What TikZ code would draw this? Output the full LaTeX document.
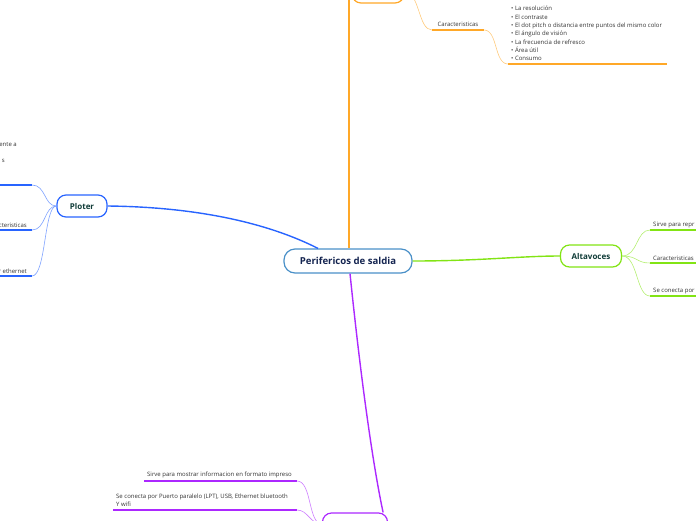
\documentclass[tikz,border=0pt]{standalone}
\usepackage{fontspec}
\setmainfont{Open Sans}
\usetikzlibrary{arrows.meta,calc,positioning}
\definecolor{CoreBlue}{RGB}{74,144,200}
\definecolor{CoreNavy}{RGB}{20,36,80}
\definecolor{TopicInk}{RGB}{16,60,56}
\definecolor{LeafGray}{RGB}{50,50,50}
\definecolor{MapOrange}{RGB}{255,168,40}
\definecolor{MapGreen}{RGB}{130,228,20}
\definecolor{MapBlue}{RGB}{40,100,255}
\definecolor{MapPurple}{RGB}{172,40,255}

\begin{document}
\begin{tikzpicture}[x=1pt,y=-1pt,
    topic/.style={draw,fill=white,rounded corners=9pt,line width=1.2pt,
      minimum height=22pt,text=TopicInk,
      font=\fontsize{8}{9}\selectfont\bfseries},
    leaf/.style={font=\fontsize{6}{8.3}\selectfont,text=LeafGray,
      inner sep=1pt,align=left},
    branch/.style={line width=1.4pt},
    twig/.style={line width=.6pt},
    bar/.style={line width=1.8pt}]
  \useasboundingbox (0,0) rectangle (696,520);
  \clip (0,0) rectangle (696,520);

  % central topic
  \node[topic,draw=CoreBlue,text=CoreNavy,minimum width=128pt,
    minimum height=24pt,rounded corners=11pt,
    font=\fontsize{9.6}{10}\selectfont\bfseries] (core) at (348,261)
    {Perifericos de saldia};

  % orange branch (top)
  \node[topic,draw=MapOrange,minimum width=52pt] (monitor) at (378,-8) {};
  \coordinate (monTop) at (349,-2);
  \draw[MapOrange,branch] ($(core.north)+(1,0)$) -- (monTop);
  \coordinate (carL) at (432,30);
  \coordinate (carR) at (484,30);
  \coordinate (listL) at (508,64);
  \coordinate (listR) at (667,64);
  \node[leaf,anchor=south] (carText) at (458,28) {Caracteristicas};
  \draw[MapOrange,bar] (carL) -- (carR);
  \draw[MapOrange!60,twig] (monitor.east) .. controls (420,-8) and (418,30) .. (carL);
  \node[leaf,anchor=south west] (carList) at (510,62)
    {• La resolución\\• El contraste\\
     • El dot pitch o distancia entre puntos del mismo color\\
     • El ángulo de visión\\• La frecuencia de refresco\\
     • Área útil\\• Consumo};
  \draw[MapOrange,bar] (listL) -- (listR);
  \draw[MapOrange!60,twig] (carR) .. controls (498,30) and (494,64) .. (listL);

  % green branch (right)
  \node[topic,draw=MapGreen,minimum width=61pt] (alta) at (591,256) {Altavoces};
  \draw[MapGreen,branch] (core.east) .. controls (480,261) and (520,256) .. (alta.west);
  \foreach \y/\txt in {230/Sirve para repr,263/Caracteristicas,296/Se conecta por}{
    \coordinate (altaLeaf\y) at (650,\y);
    \node[leaf,anchor=south west] at (652,\y-1) {\txt};
    \draw[MapGreen,bar] (altaLeaf\y) -- +(50,0);
    \draw[MapGreen!60,twig] (alta.east) .. controls (638,256) and (636,\y) .. (altaLeaf\y);
  }

  % blue branch (left)
  \node[topic,draw=MapBlue,minimum width=50pt] (ploter) at (82,206) {Ploter};
  \coordinate (coreNW) at ($(core.north)+(-30,0)$);
  \draw[MapBlue,branch] (ploter.east) .. controls (200,207) and (270,224) .. (coreNW);
  \node[leaf,anchor=south east] at (18,148) {ente a};
  \node[leaf,anchor=south east] at (6,164) {s};
  \node[leaf,anchor=south east] at (28,229) {cteristicas};
  \node[leaf,anchor=south east] at (28,275) {r ethernet};
  \foreach \y in {185,230,276}{
    \coordinate (ploLeaf\y) at (32,\y);
    \draw[MapBlue,bar] (ploLeaf\y) -- +(-40,0);
    \draw[MapBlue!60,twig] (ploter.west) .. controls (44,206) and (46,\y) .. (ploLeaf\y);
  }

  % purple branch (bottom)
  \node[topic,draw=MapPurple,minimum width=65pt] (impre) at (355,524) {};
  \coordinate (impreNE) at ($(impre.north east)+(-5,0)$);
  \draw[MapPurple,branch] ($(core.south)+(2,0)$) .. controls (362,390) and (374,470) .. (impreNE);
  \coordinate (useR) at (297,481);
  \coordinate (conR) at (297,510);
  \node[leaf,anchor=south west] (useText) at (146,479)
    {Sirve para mostrar informacion en formato impreso};
  \node[leaf,anchor=south west] (conText) at (115,508)
    {Se conecta por Puerto paralelo (LPT), USB, Ethernet bluetooth\\Y wifi};
  \draw[MapPurple,bar] (useR) -- +(-153,0);
  \draw[MapPurple,bar] (conR) -- +(-184,0);
  \draw[MapPurple!60,twig] (useR) .. controls (312,481) and (308,524) .. (impre.west);
  \draw[MapPurple!60,twig] (conR) .. controls (308,510) and (310,524) .. (impre.west);
\end{tikzpicture}
\end{document}
